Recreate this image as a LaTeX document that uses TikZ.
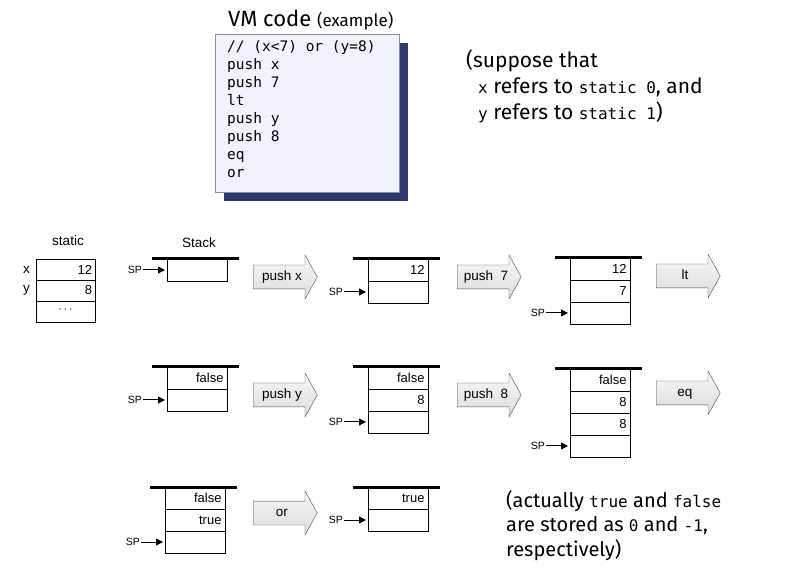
\documentclass[tikz,border=0pt]{standalone}
\usepackage{fontspec}
\setmainfont{Fira Sans}
\setmonofont{DejaVu Sans Mono}
\newfontfamily\arialfont{Liberation Sans}
\usetikzlibrary{positioning,shapes.arrows,arrows.meta,shadows}
\definecolor{codebg}{RGB}{242,242,252}
\definecolor{codeframe}{RGB}{135,140,175}
\definecolor{shadownavy}{RGB}{44,56,110}

\tikzset{
cell/.style = {draw, minimum width=60, minimum height=22, inner sep=0, outer sep=0,
    text width=53, align=right, font=\arialfont\fontsize{13}{13}\selectfont},
bar/.style = {line width=3},
lbl/.style = {inner sep=1, font=\arialfont\fontsize{13.5}{13.5}\selectfont},
splbl/.style = {inner sep=1, font=\arialfont\fontsize{10.5}{10.5}\selectfont},
sparrow/.style = {-{Triangle[length=7,width=7]}, line width=1, shorten >=2},
op/.style = {single arrow, draw=gray!60!black, top color=gray!6, bottom color=gray!28,
    minimum height=64, single arrow head extend=10, single arrow tip angle=122,
    inner xsep=2, inner ysep=6, text height=9, text depth=2.5, anchor=tail,
    font=\arialfont\fontsize{13.5}{13.5}\selectfont},
note/.style = {anchor=north west, inner sep=0, align=left}
}

\begin{document}
\begin{tikzpicture}[x=1pt, y=1pt]
\useasboundingbox (0,0) rectangle (806,576);

\node[anchor=base west, inner sep=0] (title) at (228,549)
    {\fontsize{22}{22}\selectfont VM code \fontsize{17}{17}\selectfont(example)};
\node[draw=codeframe, line width=1.2, fill=codebg, minimum width=184, minimum height=158,
    anchor=north west, drop shadow={shadow xshift=8, shadow yshift=-8, fill=shadownavy, opacity=1}]
    (codebox) at (215,542) {};
\node[note, font=\ttfamily\fontsize{14.5}{18}\selectfont] (codetext) at (227,536)
    {// (x<7) or (y=8)\\push x\\push 7\\lt\\push y\\push 8\\eq\\or};

\node[note, font=\fontsize{21}{26}\selectfont] (suppose) at (466,526)
    {(suppose that\\
     \hspace*{12pt}{\ttfamily\fontsize{16}{26}\selectfont x} refers to {\ttfamily\fontsize{16}{26}\selectfont static 0}, and\\
     \hspace*{12pt}{\ttfamily\fontsize{16}{26}\selectfont y} refers to {\ttfamily\fontsize{16}{26}\selectfont static 1})};

\node[note, font=\fontsize{20}{24.5}\selectfont] (actually) at (506,86)
    {(actually {\ttfamily\fontsize{16}{24}\selectfont true} and {\ttfamily\fontsize{16}{24}\selectfont false}\\
     are stored as {\ttfamily\fontsize{16}{24}\selectfont 0} and {\ttfamily\fontsize{16}{24}\selectfont -1},\\
     respectively)};

\node[lbl] (staticlbl) at (68,335) {static};
\node[cell, minimum width=59, minimum height=21, anchor=north] (st1) at (65.5,317) {12};
\node[cell, minimum width=59, minimum height=21, below=0 of st1] (st2) {8};
\node[cell, minimum width=59, minimum height=21, align=center, below=0 of st2] (st3)
    {\raisebox{4pt}{\fontsize{12}{12}\selectfont$\cdots$}};
\node[lbl, left=5 of st1.west] (xlbl) {x};
\node[lbl, left=5 of st2.west] (ylbl) {y};

\node[lbl] (stacklbl) at (199,333) {Stack};
\node[cell, anchor=north] (s1a) at (197,317) {};
\node[cell, anchor=north] (s2a) at (398,317) {12};
\node[cell, below=0 of s2a] (s2b) {};
\node[cell, anchor=north] (s3a) at (600,318) {12};
\node[cell, below=0 of s3a] (s3b) {7};
\node[cell, below=0 of s3b] (s3c) {};

\node[cell, anchor=north] (s4a) at (197,209) {false};
\node[cell, below=0 of s4a] (s4b) {};
\node[cell, anchor=north] (s5a) at (398,209) {false};
\node[cell, below=0 of s5a] (s5b) {8};
\node[cell, below=0 of s5b] (s5c) {};
\node[cell, anchor=north] (s6a) at (600,207) {false};
\node[cell, below=0 of s6a] (s6b) {8};
\node[cell, below=0 of s6b] (s6c) {8};
\node[cell, below=0 of s6c] (s6d) {};

\node[cell, anchor=north] (s7a) at (195,89) {false};
\node[cell, below=0 of s7a] (s7b) {true};
\node[cell, below=0 of s7b] (s7c) {};
\node[cell, anchor=north] (s8a) at (398,89) {true};
\node[cell, below=0 of s8a] (s8b) {};

\foreach \s in {s1a,s2a,s3a,s4a,s5a,s6a,s7a,s8a}
    \draw[bar] ([xshift=-15]\s.north west) -- ([xshift=12]\s.north east);
\foreach \c [count=\i] in {s1a,s2b,s3c,s4b,s5c,s6d,s7c,s8b} {
    \node[splbl, left=24 of \c.west] (sp\i) {SP};
    \draw[sparrow] (sp\i) -- (\c.west);
}

\node[op] (pushx) at (253,299) {push x};
\node[op] (pushseven) at (457,299) {push\ \ 7};
\node[op] (lt) at (656,300) {lt};
\node[op] (pushy) at (253,181) {push y};
\node[op] (pusheight) at (457,181) {push\ \ 8};
\node[op] (eq) at (656,183) {eq};
\node[op] (or) at (253,63) {or};

\end{tikzpicture}
\end{document}
